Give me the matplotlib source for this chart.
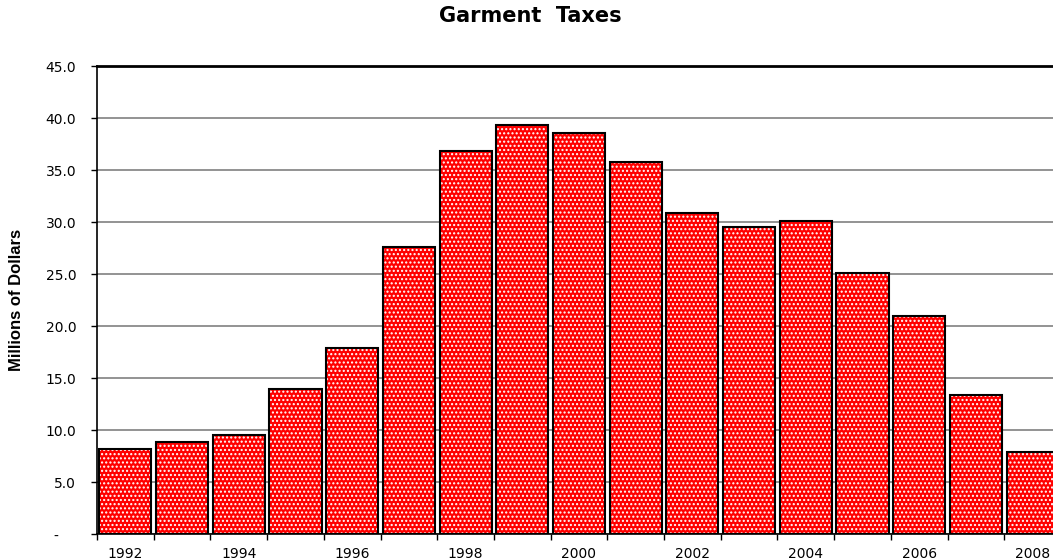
import matplotlib
matplotlib.use("Agg")
import matplotlib.pyplot as plt
import numpy as np

plt.rcParams['font.family'] = ['DejaVu Sans']
plt.rcParams['hatch.linewidth'] = 1.0

years = list(range(1992, 2009))
taxes = [8.2, 8.8, 9.5, 13.9, 17.9, 27.6, 36.8, 39.3, 38.6, 35.8,
         30.9, 29.5, 30.1, 25.1, 21.0, 13.4, 7.9]
ytick_values = [0, 5, 10, 15, 20, 25, 30, 35, 40, 45]
ytick_labels = ['-    ', '5.0', '10.0', '15.0', '20.0', '25.0', '30.0',
                '35.0', '40.0', '45.0']

fig = plt.figure(figsize=(10.53, 5.6), dpi=100)
ax = fig.add_axes([97 / 1053, 26 / 560, 964 / 1053, 468 / 560])

x = np.arange(len(years))
# red fill with white dotted pattern, then black outline on top
ax.bar(x, taxes, width=0.92, color='#ff0000', edgecolor='white',
       hatch='....', linewidth=0, zorder=2)
ax.bar(x, taxes, width=0.92, fill=False, edgecolor='black',
       linewidth=1.5, zorder=3)

ax.set_xlim(-0.5, len(years) - 0.5)
ax.set_ylim(0, 45)

ax.set_yticks(ytick_values)
ax.set_yticklabels(ytick_labels, fontsize=10)
ax.yaxis.grid(True, color='#808080', linewidth=1.2, zorder=0)
ax.set_axisbelow(True)

# tick marks on category boundaries, labels on every other bar
ax.set_xticks(np.arange(-0.5, len(years), 1.0))
ax.set_xticklabels([])
ax.set_xticks(x[::2], minor=True)
ax.set_xticklabels([str(y) for y in years[::2]], minor=True, fontsize=10)
ax.tick_params(axis='x', which='minor', length=0, pad=9)
ax.tick_params(axis='x', which='major', length=4, width=1, direction='out')
ax.tick_params(axis='y', length=4, width=1, pad=11)

for side in ['left', 'bottom']:
    ax.spines[side].set_linewidth(1.2)
ax.spines['top'].set_linewidth(2)
ax.spines['right'].set_visible(False)

ax.set_ylabel('Millions of Dollars', fontsize=12, fontweight='bold',
              family='Liberation Sans', va='center')
ax.yaxis.set_label_coords(-80 / 964, 0.5)
fig.text(530 / 1053, 1 - 16 / 560, 'Garment  Taxes', ha='center', va='center',
         fontsize=15, fontweight='bold')

fig.savefig('out.png', dpi=100)
